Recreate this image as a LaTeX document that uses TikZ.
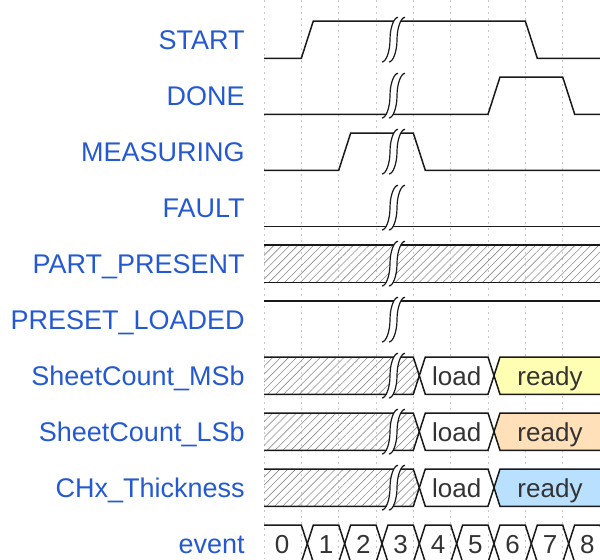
\documentclass[tikz,border=0pt]{standalone}
\usepackage{fontspec}
\setmainfont{Liberation Sans}
\usetikzlibrary{patterns.meta}

\definecolor{labelblue}{HTML}{2459D2}
\definecolor{readyyellow}{HTML}{FFFFB4}
\definecolor{readyorange}{HTML}{FFE0B9}
\definecolor{readyblue}{HTML}{B9E0FF}

\tikzset{
  sig/.style={anchor=base east, inner sep=0pt, text=labelblue, font=\fontsize{13.5}{15}\selectfont},
  val/.style={anchor=base, inner sep=0pt, text=black!80, font=\fontsize{13}{15}\selectfont},
  wave/.style={line width=0.75pt, black!90},
  hatch/.style={pattern={Lines[angle=45,distance=2.8pt,line width=0.3pt]}, pattern color=black!45},
  tick/.style={black!22, line width=0.5pt, dash pattern=on 1pt off 2pt},
  gapmark/.pic={
    \fill[white] (3,-22.35) .. controls (-1,-22.35) and (-5,-12) .. (-5,0) .. controls (-5,12) and (-9,22.35) .. (-13,22.35)
      -- (-6,22.35) .. controls (-2,22.35) and (2,12) .. (2,0) .. controls (2,-12) and (6,-22.35) .. (10,-22.35) -- cycle;
    \draw[wave, line width=0.6pt] (3,-22.35) .. controls (-1,-22.35) and (-5,-12) .. (-5,0) .. controls (-5,12) and (-9,22.35) .. (-13,22.35);
    \draw[wave, line width=0.6pt] (10,-22.35) .. controls (6,-22.35) and (2,-12) .. (2,0) .. controls (2,12) and (-2,22.35) .. (-6,22.35);
  }
}

\begin{document}
\begin{tikzpicture}[x=0.5pt, y=-0.5pt]
  \path[use as bounding box] (0,0) rectangle (600,559);
  \clip (0,0) rectangle (600,559);

  % grid
  \foreach \k in {0,...,9}
    \draw[tick] ({264+37.333*\k},0) -- ({264+37.333*\k},559);

  % signal names
  \node[sig] (start) at (245, 49) {START};
  \node[sig] (done) at (245, 105) {DONE};
  \node[sig] (measuring) at (245, 161) {MEASURING};
  \node[sig] (fault) at (245, 217) {FAULT};
  \node[sig] (partpresent) at (245, 273) {PART\_PRESENT};
  \node[sig] (presetloaded) at (245, 329) {PRESET\_LOADED};
  \node[sig] (msb) at (245, 385) {SheetCount\_MSb};
  \node[sig] (lsb) at (245, 441) {SheetCount\_LSb};
  \node[sig] (chx) at (245, 497) {CHx\_Thickness};
  \node[sig] (event) at (245, 553) {event};

  % single bit lines
  \draw[wave] (264,58.3) -- (301.3,58.3) -- (313.3,21) -- (525.3,21) -- (537.3,58.3) -- (610,58.3);
  \draw[wave] (264,114.3) -- (488,114.3) -- (500,77) -- (562.7,77) -- (574.7,114.3) -- (610,114.3);
  \draw[wave] (264,170.3) -- (338.7,170.3) -- (350.7,133) -- (413.3,133) -- (425.3,170.3) -- (610,170.3);
  \draw[wave] (264,226.3) -- (610,226.3);
  \fill[hatch] (264,245) rectangle (610,282.3);
  \draw[wave] (264,245) -- (610,245);
  \draw[wave] (264,282.3) -- (610,282.3);
  \draw[wave] (264,301) -- (610,301);

  % buses
  \foreach \t/\col/\nm in {357/readyyellow/msb, 413/readyorange/lsb, 469/readyblue/chx} {
    \fill[hatch] (264,\t) -- (413.3,\t) -- (419.3,{\t+18.65}) -- (413.3,{\t+37.3}) -- (264,{\t+37.3}) -- cycle;
    \draw[wave] (264,\t) -- (413.3,\t) -- (419.3,{\t+18.65}) -- (413.3,{\t+37.3}) -- (264,{\t+37.3});
    \draw[wave, fill=white] (419.3,{\t+18.65}) -- (425.3,\t) -- (488,\t) -- (494,{\t+18.65}) -- (488,{\t+37.3}) -- (425.3,{\t+37.3}) -- cycle;
    \draw[wave, fill=\col] (494,{\t+18.65}) -- (500,\t) -- (620,\t) -- (620,{\t+37.3}) -- (500,{\t+37.3}) -- cycle;
    \node[val] (\nm-load) at (456.7,{\t+28.8}) {load};
    \node[val] (\nm-ready) at (550,{\t+28.8}) {ready};
  }

  % event counter
  \draw[wave] (264,525) -- (301.3,525) -- (307.3,543.65) -- (301.3,562.3) -- (264,562.3);
  \foreach \k in {1,...,9}
    \draw[wave] ({264+37.333*\k+6},543.65) -- ({264+37.333*\k+12},525) -- ({264+37.333*(\k+1)},525)
      -- ({264+37.333*(\k+1)+6},543.65) -- ({264+37.333*(\k+1)},562.3) -- ({264+37.333*\k+12},562.3) -- cycle;
  \node[val] (ev0) at (282,553.3) {0};
  \foreach \k in {1,...,8}
    \node[val] (ev\k) at ({264+37.333*\k+24.67},553.3) {\k};

  % gaps
  \foreach \m in {39.65,95.65,151.65,207.65,263.65,319.65,375.65,431.65,487.65}
    \pic at (395,\m) {gapmark};
\end{tikzpicture}
\end{document}
